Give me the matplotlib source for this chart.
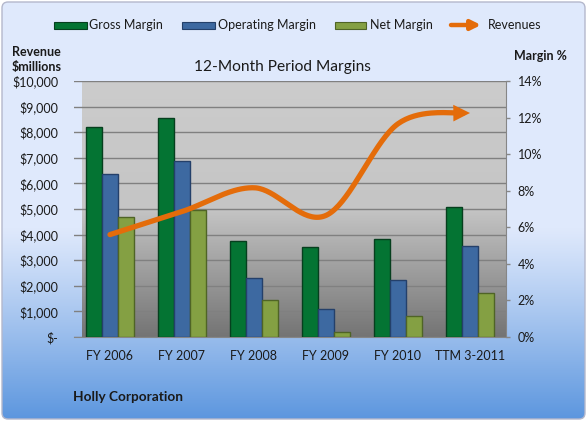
import numpy as np
import matplotlib
matplotlib.use('Agg')
import matplotlib.pyplot as plt
from matplotlib.patches import FancyBboxPatch, Rectangle, FancyArrowPatch

# ---------------- data ----------------
categories = ['FY 2006', 'FY 2007', 'FY 2008', 'FY 2009', 'FY 2010', 'TTM 3-2011']
gross_margin = [11.5, 12.0, 5.25, 4.9, 5.35, 7.1]
operating_margin = [8.9, 9.65, 3.25, 1.55, 3.1, 5.0]
net_margin = [6.55, 6.95, 2.0, 0.27, 1.15, 2.4]
revenues = [4000, 4900, 5830, 4750, 8330, 8750]

revenue_ticks = [0, 1000, 2000, 3000, 4000, 5000, 6000, 7000, 8000, 9000, 10000]
revenue_tick_labels = ['$-', '$1,000', '$2,000', '$3,000', '$4,000', '$5,000',
                       '$6,000', '$7,000', '$8,000', '$9,000', '$10,000']
margin_ticks = [0, 2, 4, 6, 8, 10, 12, 14]
margin_tick_labels = ['0%', '2%', '4%', '6%', '8%', '10%', '12%', '14%']

series_names = ['Gross Margin', 'Operating Margin', 'Net Margin']
line_name = 'Revenues'
title = '12-Month Period Margins'
left_label = ['Revenue', '$millions']
right_label = 'Margin %'
company = 'Holly Corporation'

# ---------------- style ----------------
FONT = ['Lato', 'DejaVu Sans']
plt.rcParams['font.family'] = FONT
bar_colors = ['#047433', '#3d69a1', '#84a043']
bar_edges = ['#063f1e', '#24406a', '#4f6426']
orange = '#E46C0A'
text_col = '#1a1a1a'
FS = 9.0

W, H = 588, 422
fig = plt.figure(figsize=(W / 100, H / 100), dpi=100, facecolor='white')

# ---------------- figure background ----------------
bg = fig.add_axes([0, 0, 1, 1], zorder=-10)
bg.set_xlim(0, W)
bg.set_ylim(H, 0)
bg.set_axis_off()
rows = np.linspace(0, 1, H)
t = np.clip((rows - 0.54) / (1 - 0.54), 0, 1) ** 1.1
top_c = np.array([223, 233, 252]) / 255
bot_c = np.array([90, 149, 222]) / 255
grad = (top_c[None, :] * (1 - t[:, None]) + bot_c[None, :] * t[:, None])[:, None, :]
im = bg.imshow(grad, extent=[0, W, H, 0], aspect='auto', zorder=0)
frame = FancyBboxPatch((2, 2), W - 5, H - 5, boxstyle='round,pad=0,rounding_size=6',
                       facecolor='none', edgecolor='#b4b8cc', lw=1.0, zorder=1)
bg.add_patch(frame)
im.set_clip_path(frame)

# legend (manual, in pixel coords)
leg_y = 25
leg_items = [(54, 87, 89), (182, 214.5, 217.5), (334.5, 366, 370)]
for (x0, x1, tx), name, fc, ec in zip(leg_items, series_names, bar_colors, bar_edges):
    bg.add_patch(Rectangle((x0, leg_y - 3.5), x1 - x0, 7, facecolor=fc, edgecolor=ec, lw=0.8, zorder=2))
    bg.text(tx, leg_y, name, ha='left', va='center', fontsize=FS, color=text_col, zorder=3)
bg.add_patch(FancyArrowPatch((451, leg_y), (481, leg_y), arrowstyle='-|>', mutation_scale=14,
                             color=orange, lw=3.2, shrinkA=0, shrinkB=0, zorder=2))
bg.text(487.5, leg_y, line_name, ha='left', va='center', fontsize=FS, color=text_col, zorder=3)

bg.text(12, 52, left_label[0], ha='left', va='center', fontsize=FS, fontweight='bold', color=text_col)
bg.text(12, 67, left_label[1], ha='left', va='center', fontsize=FS, fontweight='bold', color=text_col)
bg.text(514, 56, right_label, ha='left', va='center', fontsize=FS, fontweight='bold', color=text_col)
bg.text(282, 67, title, ha='center', va='center', fontsize=11.2, color=text_col)
bg.text(73, 397, company, ha='left', va='center', fontsize=9.8, fontweight='bold', color=text_col)

# ---------------- plot axes ----------------
L, R, B, T = 74, 506, 337, 81
rect = [L / W, 1 - B / H, (R - L) / W, (B - T) / H]
ax = fig.add_axes(rect)
n = len(categories)
x = np.arange(n)
ax.set_xlim(-0.5, n - 0.5)
ax.set_ylim(revenue_ticks[0], revenue_ticks[-1])
ax.patch.set_visible(False)

# plot-area gradient
prow = np.linspace(0, 1, 256)
pt = np.clip((prow - 0.5) / 0.5, 0, 1)
ptop = np.array([204, 204, 204]) / 255
pmid = np.array([197, 197, 197]) / 255
pbot = np.array([116, 116, 116]) / 255
pg = np.where(prow[:, None] < 0.5,
              ptop[None, :] * (1 - prow[:, None] * 2) + pmid[None, :] * prow[:, None] * 2,
              pmid[None, :] * (1 - pt[:, None]) + pbot[None, :] * pt[:, None])[:, None, :]
ax.imshow(pg, extent=[-0.5 + 8 / 72, n - 0.5, revenue_ticks[0], revenue_ticks[-1]],
          aspect='auto', zorder=-1)

ax.set_yticks(revenue_ticks)
ax.set_yticklabels(revenue_tick_labels)
ax.grid(axis='y', color='#808080', lw=1.0)
ax.set_axisbelow(True)
ax.tick_params(axis='y', length=0, pad=11.5, labelsize=FS, labelcolor=text_col)
ax.set_xticks(x)
ax.set_xticklabels(categories)
ax.tick_params(axis='x', length=0, pad=9, labelsize=FS, labelcolor=text_col)
for s in ['left', 'top', 'right']:
    ax.spines[s].set_visible(False)
ax.spines['bottom'].set_color('#868686')

# bars on margin axis (right)
ax2 = ax.twinx()
ax2.set_ylim(margin_ticks[0], margin_ticks[-1])
ax2.set_yticks(margin_ticks)
ax2.set_yticklabels(margin_tick_labels)
ax2.tick_params(axis='y', length=4 * 0.72, width=1, color='#868686', pad=5.5,
                labelsize=FS, labelcolor=text_col)
for s in ['left', 'top', 'bottom']:
    ax2.spines[s].set_visible(False)
ax2.spines['right'].set_color('#868686')
bw = 0.218
for i, (vals, fc, ec) in enumerate(zip([gross_margin, operating_margin, net_margin], bar_colors, bar_edges)):
    ax2.bar(x + (i - 1) * bw, vals, width=bw, color=fc, edgecolor=ec, lw=1.0, zorder=2)

# revenue line on its own overlay axis (left scale)
ax3 = ax.twinx()
ax3.set_ylim(revenue_ticks[0], revenue_ticks[-1])
ax3.set_axis_off()


def catmull_rom(xs, ys, m=40):
    P = np.column_stack([xs, ys]).astype(float)
    P = np.vstack([P[0], P, P[-1]])
    out = []
    for i in range(1, len(P) - 2):
        p0, p1, p2, p3 = P[i - 1], P[i], P[i + 1], P[i + 2]
        tt = np.linspace(0, 1, m, endpoint=(i == len(P) - 3))[:, None]
        out.append(0.5 * (2 * p1 + (-p0 + p2) * tt + (2 * p0 - 5 * p1 + 4 * p2 - p3) * tt ** 2
                          + (-p0 + 3 * p1 - 3 * p2 + p3) * tt ** 3))
    return np.vstack(out)


curve = catmull_rom(x, revenues)
ax3.plot(curve[:-6, 0], curve[:-6, 1], color=orange, lw=3.8, solid_capstyle='round', zorder=3)
ax3.add_patch(FancyArrowPatch(tuple(curve[-10]), tuple(curve[-1]), arrowstyle='-|>',
                              mutation_scale=30, color=orange, lw=0, shrinkA=0, shrinkB=0, zorder=4))

fig.savefig('out.png', dpi=100, facecolor='white')
